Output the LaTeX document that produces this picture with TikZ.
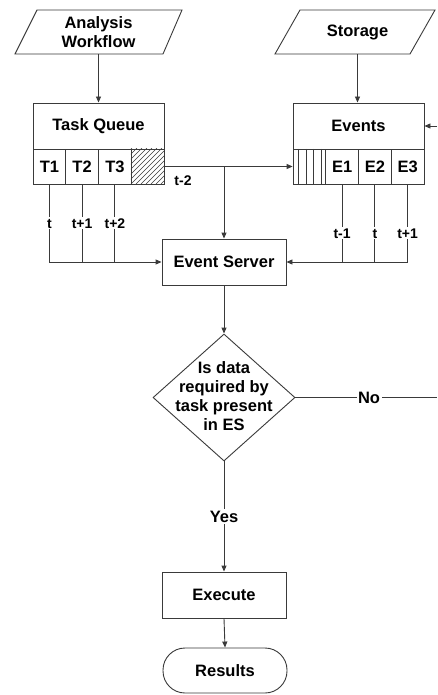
\documentclass[tikz,border=0pt]{standalone}
\usepackage{fontspec}
\setmainfont{Liberation Sans}
\usetikzlibrary{arrows.meta,shapes.geometric}
\definecolor{ln}{HTML}{3A3A3A}
\begin{document}
\begin{tikzpicture}[x=1pt,y=-1pt,color=ln,text=black,line width=0.9pt,
  font=\fontsize{16.5}{19}\selectfont\bfseries,
  box/.style={draw=ln,rectangle,inner sep=0pt,minimum width=124pt,minimum height=46pt},
  head/.style={box,minimum width=131pt,minimum height=46pt},
  cell/.style={draw=ln,rectangle,inner sep=0pt,minimum width=32.75pt,minimum height=35pt},
  lbl/.style={fill=white,inner sep=1pt,text height=10pt,text depth=0pt,
    font=\fontsize{14}{16}\selectfont\bfseries},
  tag/.style={fill=white,inner sep=1.5pt},
  arr/.style={-{Triangle[length=6pt,width=5pt]}}]
\fill[white] (0,0) rectangle (437,695);
\useasboundingbox (0,0) rectangle (437,695);

% input parallelograms
\draw (15,54) -- (37,10) -- (182,10) -- (163,54) -- cycle;
\node[align=center,inner sep=0pt,minimum height=44pt] (aw) at (98.5,32) {Analysis\\Workflow};
\draw (275,54) -- (300,10) -- (435,10) -- (410,54) -- cycle;
\node[inner sep=0pt,minimum height=44pt] (st) at (357.5,32) {Storage};

% task queue with its slots
\node[head] (tq) at (98.5,126) {Task Queue};
\node[cell] (t1) at (49.4,166.5) {T1};
\node[cell] (t2) at (82.1,166.5) {T2};
\node[cell] (t3) at (114.9,166.5) {T3};
\node[cell] (th) at (147.6,166.5) {};
\begin{scope}
  \clip (th.north west) rectangle (th.south east);
  \foreach \i in {0,5,...,75} \draw[line width=0.6pt] (96+\i,184) -- ++(36,-36);
\end{scope}

% event buffer with its slots
\node[head] (ev) at (358.5,126) {Events};
\node[cell] (eh) at (309.4,166.5) {};
\node[cell] (e1) at (342.1,166.5) {E1};
\node[cell] (e2) at (374.9,166.5) {E2};
\node[cell] (e3) at (407.6,166.5) {E3};
\foreach \x in {298.5,306,313.5,321} \draw[line width=0.6pt] (\x,149) -- (\x,184);

% main flow
\node[box] (es) at (224,262) {Event Server};
\node[draw=ln,diamond,inner sep=0pt,minimum width=142pt,minimum height=127pt] (dq) at (224,397.5) {};
\node[align=center,inner sep=0pt] (dqt) at (224,396) {Is data\\required by\\task present\\in ES};
\node[box] (ex) at (224,595) {Execute};
\node[box,rounded corners=22pt,minimum height=45pt] (rs) at (225,670.5) {Results};

% connectors
\draw[arr] (aw.south) -- (aw.south |- tq.north);
\draw[arr] (st.south) -- (st.south |- ev.north);
\draw[arr] (th.east) -- (eh.west);
\coordinate (jn) at (es.north |- th.east);
\draw[arr] (jn) -- (es.north);
\node[lbl,anchor=west] (tm2) at (173,180) {t-2};

\draw[arr] (t1.south) |- node[lbl,pos=0.25] {t} (es.west);
\draw (t2.south) -- node[lbl] {t+1} (t2.south |- es.west);
\draw (t3.south) -- node[lbl] {t+2} (t3.south |- es.west);

\draw[arr] (e3.south) |- node[lbl,pos=0.315] {t+1} (es.east);
\draw (e1.south) -- node[lbl,pos=0.63] {t-1} (e1.south |- es.east);
\draw (e2.south) -- node[lbl,pos=0.63] {t} (e2.south |- es.east);

\coordinate (feedR) at (437,126);
\draw[arr] (feedR) -- (ev.east);
\coordinate (noR) at (437,397.5);
\draw (dq.east) -- node[tag,pos=0.52] {No} (noR);

\draw[arr] (es.south) -- (dq.north);
\draw[arr] (dq.south) -- node[tag] {Yes} (ex.north);
\draw[arr] (ex.south) -- (rs.north);
\end{tikzpicture}
\end{document}
